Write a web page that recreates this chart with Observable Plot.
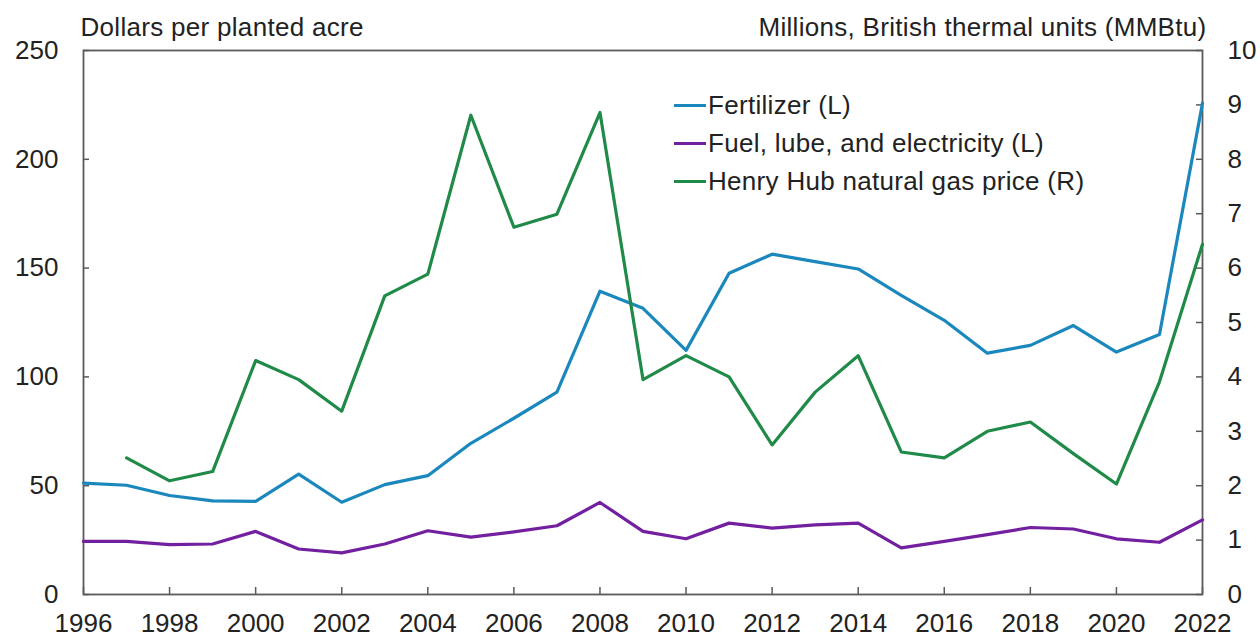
<!DOCTYPE html>
<html>
<head>
<meta charset="utf-8">
<script src="https://cdn.jsdelivr.net/npm/d3@7"></script>
<script src="https://cdn.jsdelivr.net/npm/@observablehq/plot@0.6"></script>
<style>
  html, body { margin: 0; padding: 0; background: #fff; }
  #wrap { position: relative; width: 1260px; height: 639px; font-family: "Liberation Sans", Arial, sans-serif; }
  #legend { position: absolute; left: 674px; top: 86px; font-size: 26px; color: #222; letter-spacing: 0.3px; }
  #legend .row { height: 38px; line-height: 34px; display: flex; align-items: center; white-space: nowrap; }
  #legend .sw { display: inline-block; width: 32px; height: 3px; margin-right: 2px; }
</style>
</head>
<body>
<div id="wrap"></div>
<script>
const years = [1996,1997,1998,1999,2000,2001,2002,2003,2004,2005,2006,2007,2008,2009,2010,2011,2012,2013,2014,2015,2016,2017,2018,2019,2020,2021,2022];
const fertilizer = [51.2,50.2,45.5,43,42.8,55.3,42.4,50.5,54.6,69.5,81,93,139.4,131.5,112.2,147.6,156.4,153,149.6,137.5,126,110.9,114.5,123.6,111.4,119.5,225.8];
const fuel = [24.4,24.4,22.9,23.2,29.0,20.9,19.1,23.2,29.3,26.4,28.8,31.6,42.3,29.0,25.6,32.8,30.5,32.0,32.8,21.4,24.4,27.5,30.8,30.1,25.6,24.0,34.3];
const gas = [null,2.51,2.09,2.26,4.30,3.95,3.37,5.49,5.89,8.81,6.75,6.99,8.86,3.95,4.39,4.00,2.75,3.72,4.39,2.62,2.51,3.00,3.17,2.59,2.03,3.91,6.44];

const seriesNames = ["Fertilizer (L)", "Fuel, lube, and electricity (L)", "Henry Hub natural gas price (R)"];
const seriesColors = ["#1b88bd", "#7320a0", "#208a48"];

const xTicks = [1996,1998,2000,2002,2004,2006,2008,2010,2012,2014,2016,2018,2020,2022];
const leftTicks = [0,50,100,150,200,250];
const rightTicks = [0,1,2,3,4,5,6,7,8,9,10];
const ratio = 25; // right axis units -> left axis units

const leftTitle = "Dollars per planted acre";
const rightTitle = "Millions, British thermal units (MMBtu)";

const rows = years.map((yr, i) => ({year: yr, fertilizer: fertilizer[i], fuel: fuel[i], gas: gas[i]}));

const W = 1260, H = 639;
const mL = 83, mR = 58, mT = 50, mB = 45;
const innerW = W - mL - mR, innerH = H - mT - mB;
const axisColor = "#5a5a5a";
const font = "\"Liberation Sans\", Arial, sans-serif";

const chart = Plot.plot({
  width: W, height: H,
  marginLeft: mL, marginRight: mR, marginTop: mT, marginBottom: mB,
  style: {fontFamily: font, fontSize: "26px", color: "#222", background: "#fff"},
  x: {type: "linear", domain: [1996, 2022]},
  y: {domain: [0, 250]},
  marks: [
    Plot.axisX(xTicks, {anchor: "bottom", tickSize: 0, tickPadding: 19, tickFormat: d => String(d), label: null, fill: "#222"}),
    Plot.axisY(leftTicks, {anchor: "left", tickSize: 0, tickPadding: 25, label: null, fill: "#222"}),
    Plot.axisY(rightTicks.map(v => v * ratio), {anchor: "right", tickSize: 0, tickPadding: 25, tickFormat: d => String(d / ratio), label: null, fill: "#222", textAnchor: "start"}),
    Plot.tickX(xTicks, {x: d => d, insetTop: innerH - 7, stroke: axisColor, strokeWidth: 1.5}),
    Plot.tickY(leftTicks, {y: d => d, insetRight: innerW - 6, stroke: axisColor, strokeWidth: 1.5}),
    Plot.tickY(rightTicks.map(v => v * ratio), {y: d => d, insetLeft: innerW - 6, stroke: axisColor, strokeWidth: 1.5}),
    Plot.frame({stroke: axisColor, strokeWidth: 1.8}),
    Plot.line(rows, {x: "year", y: "fertilizer", stroke: seriesColors[0], strokeWidth: 3.2}),
    Plot.line(rows, {x: "year", y: "fuel", stroke: seriesColors[1], strokeWidth: 3.2}),
    Plot.line(rows.filter(d => d.gas != null), {x: "year", y: d => d.gas * ratio, stroke: seriesColors[2], strokeWidth: 3.2}),
    Plot.text([leftTitle], {text: d => d, frameAnchor: "top-left", textAnchor: "start", dx: -3, dy: -33, fill: "#222", style: {letterSpacing: "0.3px"}}),
    Plot.text([rightTitle], {text: d => d, frameAnchor: "top-right", textAnchor: "end", dx: 4, dy: -33, fill: "#222"})
  ]
});

// letter spacing for the two unit titles only
chart.querySelectorAll("g[aria-label=text] text").forEach(t => t.setAttribute("letter-spacing", "0.3"));

const wrap = document.getElementById("wrap");
wrap.appendChild(chart);

const legend = document.createElement("div");
legend.id = "legend";
seriesNames.forEach((name, i) => {
  const row = document.createElement("div");
  row.className = "row";
  const sw = document.createElement("span");
  sw.className = "sw";
  sw.style.background = seriesColors[i];
  const t = document.createElement("span");
  t.textContent = name;
  row.appendChild(sw);
  row.appendChild(t);
  legend.appendChild(row);
});
wrap.appendChild(legend);
</script>
</body>
</html>
